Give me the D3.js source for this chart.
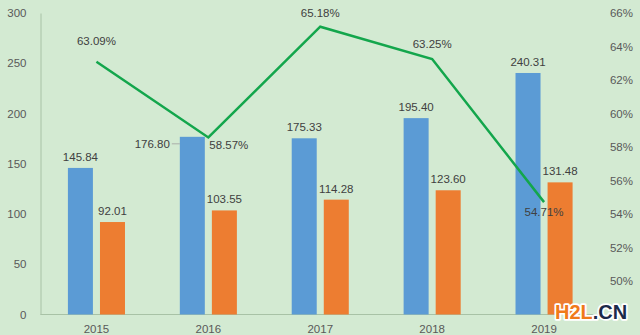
<!DOCTYPE html>
<html>
<head>
<meta charset="utf-8">
<script src="https://cdn.jsdelivr.net/npm/d3@7"></script>
<style>
  html, body { margin: 0; padding: 0; background: #d3ead2; }
  svg { display: block; }
</style>
</head>
<body>
<svg id="chart" width="640" height="335"></svg>
<script>
// Yearly figures: two bar series and a ratio line
const years = ["2015", "2016", "2017", "2018", "2019"];
const seriesA = [145.84, 176.80, 175.33, 195.40, 240.31];
const seriesB = [92.01, 103.55, 114.28, 123.60, 131.48];
const ratio = [63.09, 58.57, 65.18, 63.25, 54.71];
const leftTicks = [0, 50, 100, 150, 200, 250, 300];
const rightTicks = [50, 52, 54, 56, 58, 60, 62, 64, 66];

const svg = d3.select("#chart");
const W = 640, H = 335;
const plotLeft = 40.5, plotRight = 600, plotTop = 13, plotBottom = 314.5;
const textColor = "#404040";
const axisText = "#595959";
const font = "'Liberation Sans', Arial, sans-serif";

svg.append("rect").attr("width", W).attr("height", H).attr("fill", "#d3ead2");

const x0 = d3.scaleBand().domain(years).range([plotLeft, plotRight])
  .paddingInner(0.49).paddingOuter(0.245);
const x1 = d3.scaleBand().domain(["a", "b"]).range([0, x0.bandwidth()])
  .paddingInner(0.22);
const yL = d3.scaleLinear().domain([0, 300]).range([plotBottom, plotTop]);
const yR = d3.scaleLinear().domain([48, 66]).range([plotBottom, plotTop]);

// Left axis
const axL = svg.append("g").attr("transform", `translate(${plotLeft},0)`)
  .call(d3.axisLeft(yL).tickValues(leftTicks).tickSize(0).tickPadding(14));
axL.select(".domain").attr("stroke", "#a8c2a6");
axL.selectAll("text").attr("fill", axisText).attr("font-size", 11.5).attr("font-family", font);

// Right axis (labels only)
const axR = svg.append("g").attr("transform", `translate(633,0)`)
  .call(d3.axisLeft(yR).tickValues(rightTicks).tickSize(0).tickPadding(0)
    .tickFormat(d => d + "%"));
axR.select(".domain").remove();
axR.selectAll("text").attr("fill", axisText).attr("font-size", 11.5).attr("font-family", font);

// Bottom axis
const axB = svg.append("g").attr("transform", `translate(0,${plotBottom})`)
  .call(d3.axisBottom(x0).tickSize(0).tickPadding(10));
axB.select(".domain").attr("stroke", "#a8c2a6").attr("d", `M${plotLeft},0H${plotRight}`);
axB.selectAll("text").attr("fill", axisText).attr("font-size", 11.5).attr("font-family", font);

// Bars
const groups = svg.append("g").selectAll("g").data(years).join("g")
  .attr("transform", d => `translate(${x0(d)},0)`);
groups.append("rect")
  .attr("x", x1("a")).attr("width", x1.bandwidth())
  .attr("y", (d, i) => yL(seriesA[i])).attr("height", (d, i) => plotBottom - yL(seriesA[i]))
  .attr("fill", "#5b9bd5");
groups.append("rect")
  .attr("x", x1("b")).attr("width", x1.bandwidth())
  .attr("y", (d, i) => yL(seriesB[i])).attr("height", (d, i) => plotBottom - yL(seriesB[i]))
  .attr("fill", "#ed7d31");

// Bar value labels
const labelAttrs = sel => sel.attr("fill", textColor).attr("font-size", 11.5).attr("font-family", font);
groups.append("text")
  .attr("x", (d, i) => i === 1 ? x1("a") - 10 : x1("a") + x1.bandwidth() / 2)
  .attr("y", (d, i) => i === 1 ? yL(seriesA[i]) + 11 : yL(seriesA[i]) - 7)
  .attr("text-anchor", (d, i) => i === 1 ? "end" : "middle")
  .text((d, i) => seriesA[i].toFixed(2)).call(labelAttrs);
groups.filter((d, i) => i === 1).append("line")
  .attr("x1", x1("a") - 8).attr("x2", x1("a"))
  .attr("y1", yL(seriesA[1]) + 7).attr("y2", yL(seriesA[1]) + 7)
  .attr("stroke", "#a0a0a0").attr("stroke-width", 0.8);
groups.append("text")
  .attr("x", x1("b") + x1.bandwidth() / 2)
  .attr("y", (d, i) => yL(seriesB[i]) - 7)
  .attr("text-anchor", "middle")
  .text((d, i) => seriesB[i].toFixed(2)).call(labelAttrs);

// Ratio line
const cx = d => x0(d) + x0.bandwidth() / 2;
const line = d3.line().x((d, i) => cx(years[i])).y(d => yR(d));
svg.append("path").datum(ratio).attr("d", line)
  .attr("fill", "none").attr("stroke", "#13a64c").attr("stroke-width", 2.5)
  .attr("stroke-linejoin", "miter");

// Ratio labels
const rOffsets = [
  { dx: 0, dy: -17, anchor: "middle" },
  { dx: 1, dy: 12, anchor: "start" },
  { dx: 0, dy: -10, anchor: "middle" },
  { dx: 0, dy: -11, anchor: "middle" },
  { dx: 0, dy: 14, anchor: "middle" }
];
svg.append("g").selectAll("text").data(ratio).join("text")
  .attr("x", (d, i) => cx(years[i]) + rOffsets[i].dx)
  .attr("y", (d, i) => yR(d) + rOffsets[i].dy)
  .attr("text-anchor", (d, i) => rOffsets[i].anchor)
  .text(d => d.toFixed(2) + "%").call(labelAttrs);

// Site mark
const mark = svg.append("text").attr("x", 555).attr("y", 319)
  .attr("font-family", "'Liberation Sans', Arial, sans-serif")
  .attr("font-weight", "bold").attr("font-size", 20)
  .attr("stroke", "#ffffff").attr("stroke-width", 3.5).attr("stroke-linejoin", "round")
  .attr("paint-order", "stroke");
mark.append("tspan").attr("fill", "#f07a1a").text("H2L");
mark.append("tspan").attr("fill", "#1c2a4a").text(".CN");
</script>
</body>
</html>
